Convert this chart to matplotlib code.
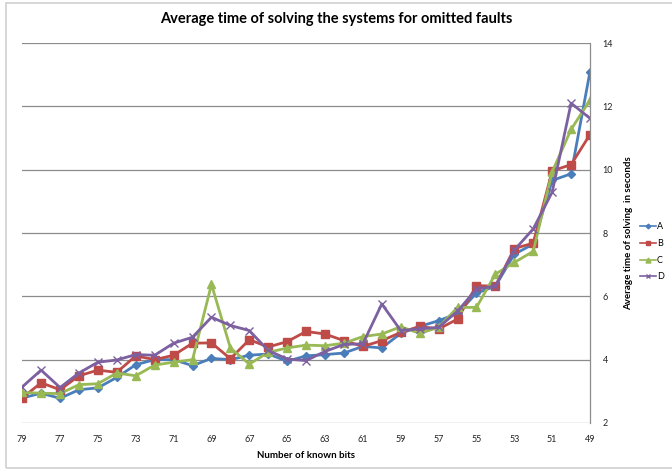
import matplotlib
matplotlib.use("Agg")
import matplotlib.pyplot as plt
from matplotlib.patches import Rectangle

bits = list(range(79, 48, -1))
A = [2.79, 2.94, 2.78, 3.05, 3.11, 3.44, 3.84, 4.00, 4.00, 3.81, 4.04, 4.00, 4.14, 4.18, 3.95, 4.12,
     4.16, 4.21, 4.42, 4.37, 4.83, 5.05, 5.23, 5.46, 6.10, 6.32, 7.33, 7.65, 9.66, 9.87, 13.10]
B = [2.79, 3.27, 3.05, 3.49, 3.67, 3.60, 4.12, 4.00, 4.14, 4.52, 4.53, 4.03, 4.63, 4.40, 4.57, 4.89,
     4.81, 4.60, 4.42, 4.60, 4.86, 5.05, 4.97, 5.28, 6.34, 6.32, 7.51, 7.68, 9.96, 10.16, 11.11]
C = [2.97, 2.94, 2.93, 3.21, 3.24, 3.58, 3.49, 3.83, 3.92, 4.00, 6.38, 4.37, 3.86, 4.23, 4.37, 4.46,
     4.44, 4.52, 4.73, 4.81, 5.04, 4.83, 5.02, 5.65, 5.65, 6.70, 7.07, 7.42, 9.93, 11.27, 12.20]
D = [3.14, 3.67, 3.12, 3.58, 3.92, 3.99, 4.16, 4.14, 4.52, 4.71, 5.34, 5.08, 4.92, 4.29, 4.02, 3.97,
     4.26, 4.48, 4.50, 5.76, 4.92, 4.97, 5.02, 5.53, 6.23, 6.32, 7.46, 8.13, 9.29, 12.10, 11.62]
series_names = ["A", "B", "C", "D"]
xticks = list(range(79, 48, -2))
yticks = [2, 4, 6, 8, 10, 12, 14]

plt.rcParams['font.family'] = ['Lato', 'DejaVu Sans']

fig = plt.figure(figsize=(6.72, 4.70), dpi=100)
fig.patches.append(Rectangle((0.009, 0.004), 0.995, 0.99, transform=fig.transFigure,
                             fill=False, edgecolor='#d0d0d0', linewidth=1.2))
ax = fig.add_axes([0.033, 0.1, 0.845, 0.8085])

styles = [
    dict(color='#4A7EBB', marker='D', markersize=4),
    dict(color='#BE4B48', marker='s', markersize=6),
    dict(color='#98B954', marker='^', markersize=6),
    dict(color='#7D60A0', marker='x', markersize=6, markeredgewidth=1.0),
]
for name, vals, st in zip(series_names, [A, B, C, D], styles):
    ax.plot(bits, vals, linewidth=2, label=name, **st)

ax.set_xlim(79, 49)
ax.set_ylim(2, 14)
ax.set_xticks(xticks)
ax.set_yticks(yticks)
ax.yaxis.tick_right()
ax.yaxis.set_label_position('right')
ax.tick_params(axis='both', length=0, labelsize=6.5, colors='#222222')
ax.tick_params(axis='y', pad=9)
ax.tick_params(axis='x', pad=9)
ax.grid(axis='y', color='#8c8c8c', linewidth=0.9)
ax.set_axisbelow(True)
for s in ['top', 'left', 'bottom']:
    ax.spines[s].set_visible(False)
ax.spines['right'].set_color('#8c8c8c')
ax.spines['right'].set_linewidth(0.9)

ax.set_xlabel('Number of known bits', fontsize=7, fontweight='bold', labelpad=5)
ax.set_ylabel('Average time of solving  in seconds', fontsize=7, fontweight='bold', labelpad=8)
fig.suptitle('Average time of solving the systems for omitted faults', fontsize=10.5,
             fontweight='bold', x=0.5, y=0.975)

leg = fig.legend(loc='center left', bbox_to_anchor=(0.952, 0.464), frameon=False, fontsize=6.5,
                 handlelength=1.8, handletextpad=0.1, labelspacing=0.85, borderaxespad=0,
                 borderpad=0, markerscale=0.6)
for line in leg.get_lines():
    line.set_linewidth(1.2)

fig.savefig('out.png', dpi=100)
